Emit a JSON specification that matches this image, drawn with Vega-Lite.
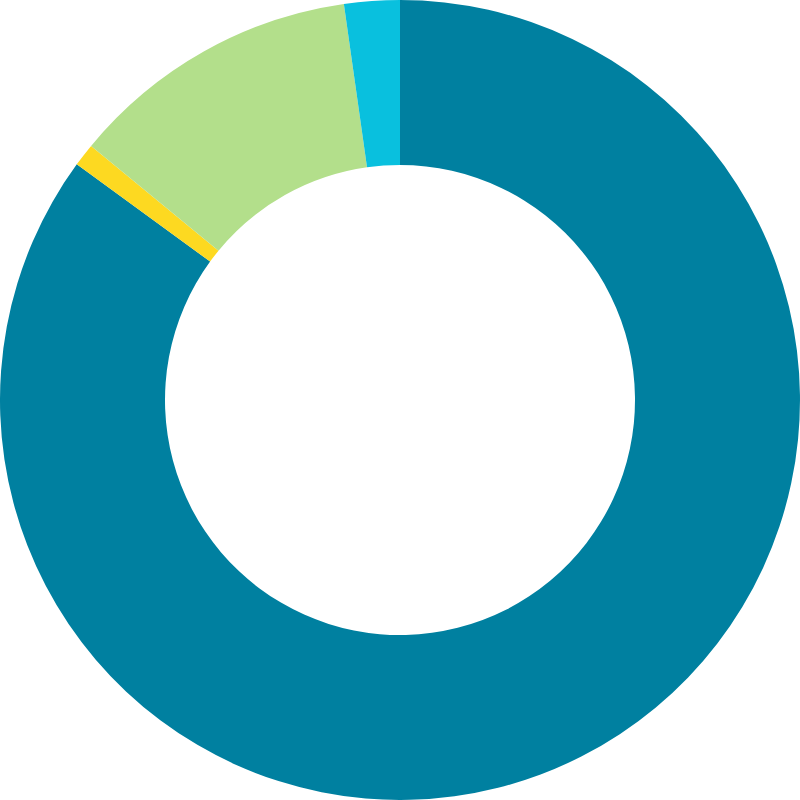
{
  "$schema": "https://vega.github.io/schema/vega-lite/v6.json",
  "autosize": {"type": "fit", "contains": "padding"},
  "width": 800,
  "height": 800,
  "padding": 0,
  "background": "white",
  "view": {"stroke": null},
  "data": {"values": [
    {"category": "A", "value": 85.0, "order": 1},
    {"category": "B", "value": 0.93, "order": 2},
    {"category": "C", "value": 11.8, "order": 3},
    {"category": "D", "value": 2.24, "order": 4}
  ]},
  "mark": {"type": "arc", "innerRadius": 235, "outerRadius": 400},
  "encoding": {
    "theta": {"field": "value", "type": "quantitative", "stack": true},
    "order": {"field": "order", "type": "quantitative"},
    "color": {
      "field": "category",
      "type": "nominal",
      "scale": {"domain": ["A", "B", "C", "D"], "range": ["#0080A0", "#FDD921", "#B3DF8B", "#09C0DE"]},
      "legend": null
    }
  }
}
